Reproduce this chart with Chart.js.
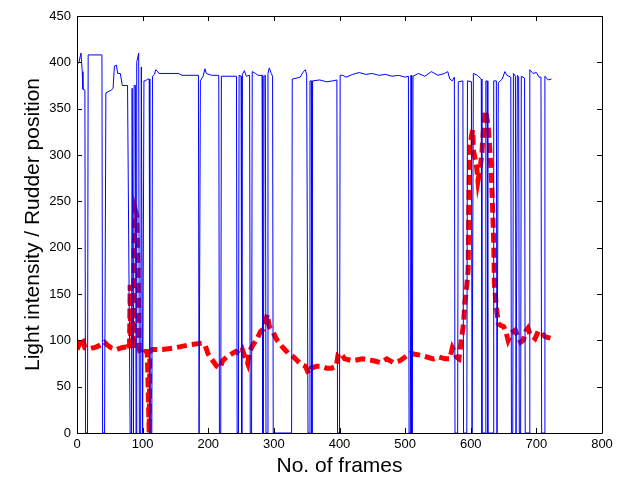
<!DOCTYPE html>
<html>
<head>
<meta charset="utf-8">
<script src="https://cdn.jsdelivr.net/npm/chart.js@4/dist/chart.umd.min.js"></script>
<style>
  body { margin: 0; background: #fff; }
  canvas { display: block; }
</style>
</head>
<body>
<canvas id="rudderChart" width="627" height="479"></canvas>
<script>
// light intensity (blue) - frame numbers and readings
const lightFrames = [0, 3, 6, 8, 9, 12, 13, 16, 17, 38, 39, 42, 44, 52, 55, 57, 60, 62, 66, 69, 77, 81, 83, 84, 86, 87, 89, 90, 91, 94, 95, 97, 98, 100, 102, 104, 108, 110, 111, 114, 115, 118, 120, 123, 125, 155, 160, 185, 186, 187, 188, 192, 195, 197, 205, 216, 217, 219, 220, 243, 244, 246, 247, 250, 251, 252, 255, 258, 263, 264, 266, 267, 272, 276, 282, 283, 284, 285, 287, 288, 290, 291, 293, 296, 298, 299, 327, 328, 335, 340, 345, 348, 350, 352, 354, 355, 357, 358, 359, 370, 380, 390, 396, 397, 400, 401, 405, 410, 420, 430, 440, 450, 460, 470, 480, 490, 500, 505, 506, 508, 509, 510, 511, 512, 520, 530, 540, 550, 560, 565, 568, 572, 575, 576, 580, 581, 588, 589, 594, 595, 601, 602, 603, 604, 610, 616, 617, 622, 623, 625, 626, 634, 635, 639, 640, 641, 642, 648, 652, 655, 661, 662, 664, 665, 668, 669, 670, 671, 673, 674, 676, 677, 682, 683, 689, 690, 695, 700, 704, 707, 708, 712, 713, 718, 723];
const lightValues = [398, 400, 410, 390, 371, 370, 0, 0, 408, 408, 0, 0, 367, 370, 372, 396, 397, 388, 388, 375, 375, 0, 0, 372, 0, 375, 375, 0, 400, 410, 0, 0, 395, 0, 380, 380, 382, 382, 0, 0, 385, 387, 392, 390, 388, 388, 386, 386, 0, 0, 380, 385, 393, 388, 386, 386, 0, 0, 385, 385, 0, 0, 386, 385, 0, 387, 391, 385, 386, 0, 0, 390, 388, 386, 386, 0, 0, 385, 386, 0, 0, 388, 394, 388, 385, 0, 0, 382, 383, 384, 390, 392, 386, 0, 0, 380, 380, 0, 380, 381, 379, 380, 381, 0, 0, 386, 386, 384, 387, 389, 387, 388, 386, 387, 385, 386, 384, 385, 0, 0, 386, 0, 0, 385, 388, 385, 390, 386, 388, 390, 382, 380, 384, 0, 0, 379, 380, 0, 0, 380, 379, 0, 0, 388, 386, 382, 0, 0, 380, 380, 0, 0, 380, 380, 0, 0, 378, 382, 390, 386, 384, 0, 0, 388, 385, 0, 0, 386, 384, 0, 0, 385, 383, 0, 0, 392, 388, 389, 384, 384, 0, 0, 385, 381, 382];

// rudder position (red dashed)
const rudderFrames = [0, 3, 6, 9, 12, 20, 30, 38, 42, 46, 52, 60, 68, 75, 80, 81, 82, 84, 86, 87, 89, 91, 93, 94, 95, 97, 100, 104, 107, 108, 110, 111, 115, 130, 150, 170, 190, 195, 200, 207, 213, 218, 222, 228, 235, 242, 248, 252, 256, 260, 263, 268, 273, 280, 284, 287, 290, 293, 298, 305, 314, 322, 330, 340, 348, 353, 357, 365, 372, 380, 388, 395, 398, 402, 408, 420, 435, 452, 462, 472, 482, 492, 500, 508, 515, 523, 533, 543, 552, 561, 568, 572, 575, 578, 582, 585, 589, 591, 594, 596, 597, 598, 599, 601, 603, 604, 607, 609, 611, 613, 615, 617, 619, 622, 625, 627, 629, 631, 633, 635, 636, 639, 642, 646, 650, 654, 657, 662, 668, 672, 676, 680, 684, 687, 691, 695, 698, 703, 708, 713, 718, 723];
const rudderValues = [90, 95, 103, 100, 92, 91, 93, 96, 98, 95, 92, 90, 92, 93, 90, 160, 95, 130, 90, 200, 240, 235, 180, 130, 90, 85, 86, 88, 88, 60, 0, 88, 90, 90, 92, 95, 97, 95, 85, 78, 72, 70, 78, 82, 85, 88, 85, 90, 82, 75, 88, 95, 100, 110, 112, 120, 128, 115, 110, 100, 92, 86, 82, 75, 72, 64, 70, 72, 72, 70, 70, 72, 85, 86, 80, 78, 80, 78, 76, 80, 76, 78, 82, 86, 85, 84, 82, 80, 82, 80, 80, 92, 88, 82, 80, 97, 118, 140, 160, 176, 240, 287, 309, 320, 327, 305, 295, 287, 272, 280, 290, 302, 324, 348, 338, 327, 305, 284, 248, 205, 162, 136, 118, 116, 115, 108, 100, 108, 111, 104, 98, 100, 110, 113, 105, 104, 102, 110, 108, 104, 103, 102];

const xTicks = [0, 100, 200, 300, 400, 500, 600, 700, 800];
const yTicks = [0, 50, 100, 150, 200, 250, 300, 350, 400, 450];

const toPoints = (xs, ys) => xs.map((x, i) => ({ x: x, y: ys[i] }));

// matlab style box with inward tick marks on all four sides
const boxTicks = {
  id: "boxTicks",
  afterDraw(chart) {
    const { ctx, chartArea: a, scales } = chart;
    const len = 5;
    ctx.save();
    ctx.strokeStyle = "#000";
    ctx.lineWidth = 1;
    ctx.beginPath();
    ctx.rect(a.left + 0.5, a.top + 0.5, a.right - a.left, a.bottom - a.top);
    xTicks.forEach((v) => {
      const px = Math.round(scales.x.getPixelForValue(v)) + 0.5;
      ctx.moveTo(px, a.bottom);
      ctx.lineTo(px, a.bottom - len);
      ctx.moveTo(px, a.top);
      ctx.lineTo(px, a.top + len);
    });
    yTicks.forEach((v) => {
      const py = Math.round(scales.y.getPixelForValue(v)) + 0.5;
      ctx.moveTo(a.left, py);
      ctx.lineTo(a.left + len, py);
      ctx.moveTo(a.right, py);
      ctx.lineTo(a.right - len, py);
    });
    ctx.stroke();
    ctx.restore();
  }
};

const tickFont = { family: "'Liberation Sans', Arial, sans-serif", size: 13 };
const titleFont = { family: "'Liberation Sans', Arial, sans-serif", size: 21 };

new Chart(document.getElementById("rudderChart"), {
  type: "line",
  data: {
    datasets: [
      {
        label: "Light intensity",
        data: toPoints(lightFrames, lightValues),
        borderColor: "#0000ff",
        borderWidth: 1,
        pointRadius: 0,
        tension: 0,
        fill: false
      },
      {
        label: "Rudder position",
        data: toPoints(rudderFrames, rudderValues),
        borderColor: "#ff0000",
        borderWidth: 5,
        borderDash: [10, 5],
        pointRadius: 0,
        tension: 0,
        fill: false
      }
    ]
  },
  options: {
    responsive: false,
    animation: false,
    layout: { padding: { left: 0, right: 25, top: 16, bottom: 0 } },
    plugins: {
      legend: { display: false },
      tooltip: { enabled: false }
    },
    scales: {
      x: {
        type: "linear",
        min: 0,
        max: 800,
        afterFit: (s) => { s.height = 46; },
        afterBuildTicks: (s) => { s.ticks = xTicks.map((v) => ({ value: v })); },
        grid: { display: false, drawTicks: false },
        border: { display: false },
        ticks: { color: "#000", font: tickFont, padding: 4, maxRotation: 0 },
        title: {
          display: true,
          text: "No. of frames",
          color: "#000",
          font: titleFont,
          padding: { top: 0, bottom: 0 }
        }
      },
      y: {
        min: 0,
        max: 450,
        afterFit: (s) => { s.width = 77; },
        afterBuildTicks: (s) => { s.ticks = yTicks.map((v) => ({ value: v })); },
        grid: { display: false, drawTicks: false },
        border: { display: false },
        ticks: { color: "#000", font: tickFont, padding: 6 },
        title: {
          display: true,
          text: "Light intensity / Rudder position",
          color: "#000",
          font: titleFont,
          padding: { top: 21, bottom: 0 }
        }
      }
    }
  },
  plugins: [boxTicks]
});
</script>
</body>
</html>
